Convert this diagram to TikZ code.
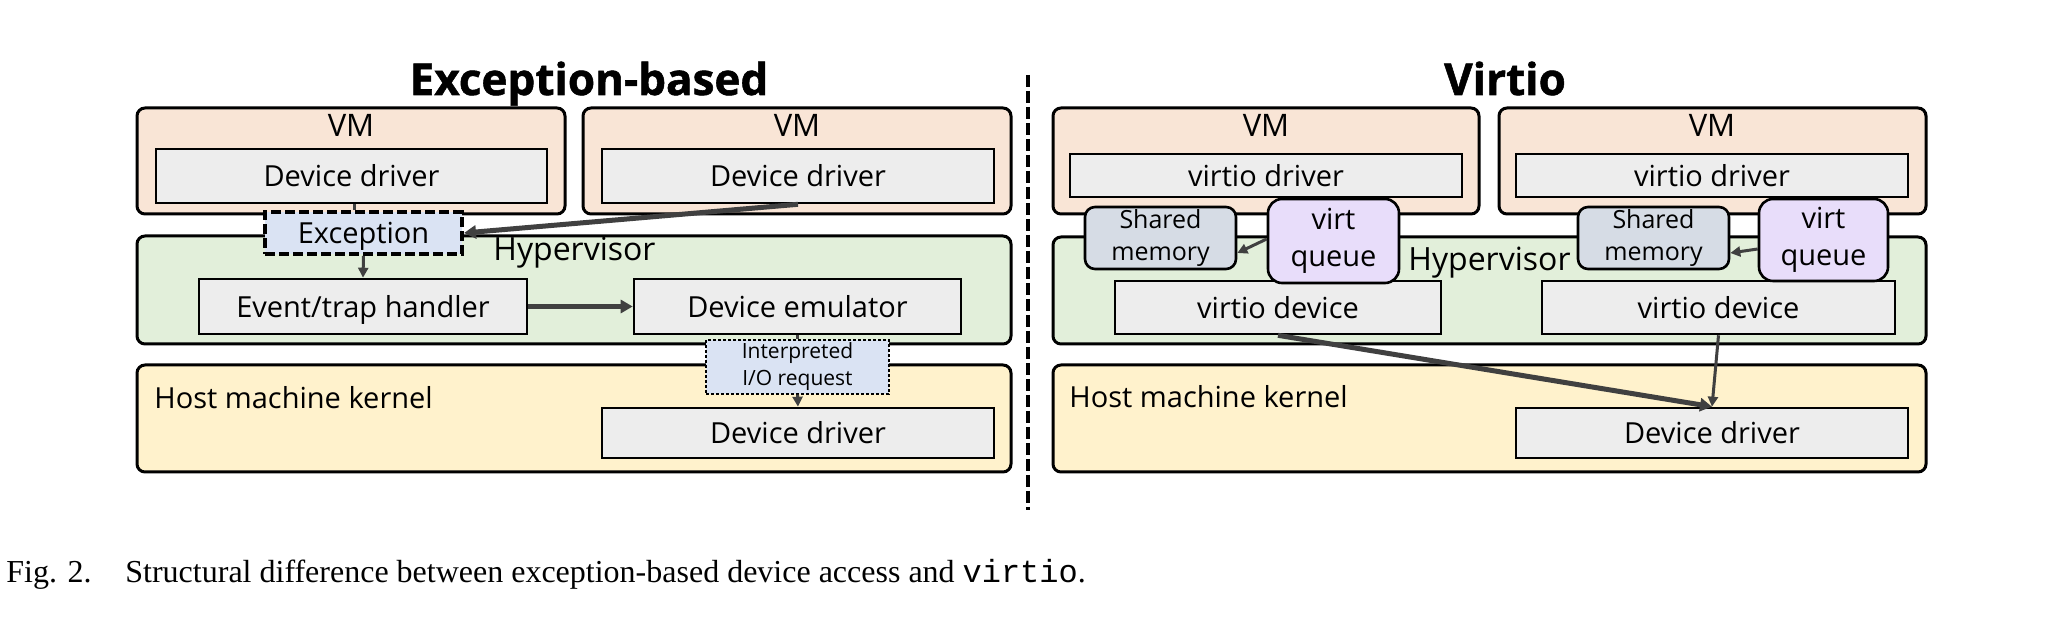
\documentclass[tikz,border=0pt]{standalone}
\usepackage{fontspec}
\setmainfont{Open Sans}
\newfontfamily\headfam{Open Sans}[BoldFeatures={FakeBold=1.2}]
\newfontfamily\capserif{Liberation Serif}
\newfontfamily\capmono{Liberation Mono}
\usetikzlibrary{arrows.meta}
\definecolor{vmpeach}{HTML}{F9E5D6}
\definecolor{hvgreen}{HTML}{E2EFDA}
\definecolor{hostcream}{HTML}{FFF2CC}
\definecolor{boxgray}{HTML}{EDEDED}
\definecolor{excblue}{HTML}{DAE3F3}
\definecolor{memgray}{HTML}{D6DCE5}
\definecolor{queuelilac}{HTML}{E8DDFA}
\definecolor{arrowgray}{HTML}{404040}

\newcommand\diagfont{\fontsize{14.5}{17}\selectfont}
\newcommand\layerfont{\fontsize{15.5}{18}\selectfont}
\newcommand\hvfont{\fontsize{16}{19}\selectfont}
\newcommand\memfont{\fontsize{12.5}{16}\selectfont}
\newcommand\queuefont{\fontsize{14.5}{18.5}\selectfont}
\newcommand\reqfont{\fontsize{10.5}{13.5}\selectfont}
\newcommand\headfont{\headfam\fontsize{22}{26}\selectfont\bfseries}
\newcommand\capfont{\capserif\fontsize{16}{19}\selectfont}

\tikzset{
  layer/.style={draw=black, line width=1.5pt, rounded corners=4pt, inner sep=0pt},
  vmlayer/.style={layer, fill=vmpeach},
  hvlayer/.style={layer, fill=hvgreen},
  hostlayer/.style={layer, fill=hostcream},
  part/.style={draw=black, line width=1.3pt, fill=boxgray, inner sep=0pt, font=\diagfont,
    text height=10.6pt, text depth=0pt},
  memblock/.style={draw=black, line width=1.3pt, fill=memgray, rounded corners=5pt,
    inner sep=0pt, align=center, font=\memfont},
  queueblock/.style={draw=black, line width=1.3pt, fill=queuelilac, rounded corners=7pt,
    inner sep=0pt, align=center, font=\queuefont},
  link/.style={draw=arrowgray, line width=1.5pt},
  flow/.style={link, -{Triangle[length=5pt,width=5pt]}},
  bigflow/.style={draw=arrowgray, line width=2.5pt, -{Triangle[length=6pt,width=6.5pt]}}
}

\begin{document}
\begin{tikzpicture}[x=0.5pt, y=-0.5pt]
  \useasboundingbox (0,0) rectangle (2056,624);

  % exception-based side
  \node[font=\headfont, anchor=base] (headexc) at (589,95) {Exception-based};
  \node[vmlayer, minimum width=214pt, minimum height=53pt] (vmA) at (351,161) {};
  \node[vmlayer, minimum width=214pt, minimum height=53pt] (vmB) at (797,161) {};
  \node[font=\layerfont, anchor=base] (vmAlab) at (351,137) {VM};
  \node[font=\layerfont, anchor=base] (vmBlab) at (797,137) {VM};
  \node[hvlayer, minimum width=437pt, minimum height=54pt] (hvA) at (574,290) {};
  \node[font=\hvfont, anchor=base west, inner sep=0pt] (hvAlab) at (493,261) {Hypervisor};
  \node[hostlayer, minimum width=437pt, minimum height=53.5pt] (hostA) at (574,418.5) {};
  \node[font=\diagfont, anchor=base west, inner sep=0pt] (hostAlab) at (154,409) {Host machine kernel};

  \node[part, minimum width=195.5pt, minimum height=27pt] (ddA) at (351.5,176) {Device driver};
  \node[part, minimum width=196pt, minimum height=27pt] (ddB) at (798,176) {Device driver};
  \node[part, minimum width=164pt, minimum height=27.5pt] (trap) at (363,306.5) {Event/trap handler};
  \node[part, minimum width=163.5pt, minimum height=27.5pt] (emu) at (797.5,306.5) {Device emulator};
  \node[part, minimum width=196pt, minimum height=25pt] (hostddA) at (798,433) {Device driver};

  \node[draw=black, line width=2pt, dash pattern=on 5pt off 2pt, fill=excblue,
    inner sep=0pt, minimum width=98.5pt, minimum height=21pt, font=\diagfont,
    text height=10.6pt, text depth=0pt] (exc) at (363.5,233) {Exception};
  \node[draw=black, line width=0.75pt, dash pattern=on 1.5pt off 1pt, fill=excblue,
    inner sep=0pt, minimum width=91.5pt, minimum height=27pt, align=center, font=\reqfont] (req) at (797.5,367) {Interpreted\\I/O request};

  \draw[link] (ddA.south -| 354,0) -- (exc.north -| 354,0);
  \draw[flow] (exc.south) -- (trap.north);
  \draw[bigflow] (ddB.south) -- (exc.east);
  \draw[bigflow] (trap.east) -- (emu.west);
  \draw[link] (emu.south) -- (req.north);
  \draw[flow] (req.south) -- (hostddA.north);

  % divider
  \coordinate (divtop) at (1028,75);
  \coordinate (divbot) at (1028,510);
  \draw[line width=2pt, dash pattern=on 6pt off 2pt] (divtop) -- (divbot);

  % virtio side
  \node[font=\headfont, anchor=base] (headvirt) at (1505,95) {Virtio};
  \node[vmlayer, minimum width=213pt, minimum height=53pt] (vmC) at (1266,161) {};
  \node[vmlayer, minimum width=213.5pt, minimum height=53pt] (vmD) at (1712.5,161) {};
  \node[font=\layerfont, anchor=base] (vmClab) at (1266,137) {VM};
  \node[font=\layerfont, anchor=base] (vmDlab) at (1712,137) {VM};
  \node[hvlayer, minimum width=436.5pt, minimum height=53.5pt] (hvB) at (1489.5,290.5) {};
  \node[font=\hvfont, anchor=base west, inner sep=0pt] (hvBlab) at (1408,271) {Hypervisor};
  \node[hostlayer, minimum width=436.5pt, minimum height=53.5pt] (hostB) at (1489.5,418.5) {};
  \node[font=\diagfont, anchor=base west, inner sep=0pt] (hostBlab) at (1069,408) {Host machine kernel};

  \node[part, minimum width=196pt, minimum height=21.5pt] (vdrvA) at (1266,175.5) {virtio driver};
  \node[part, minimum width=196pt, minimum height=21.5pt] (vdrvB) at (1712,175.5) {virtio driver};
  \node[part, minimum width=163pt, minimum height=26.5pt] (vdevA) at (1278,307.5) {virtio device};
  \node[part, minimum width=176.5pt, minimum height=26.5pt] (vdevB) at (1718.5,307.5) {virtio device};
  \node[part, minimum width=196pt, minimum height=25pt] (hostddB) at (1712,433) {Device driver};

  \node[memblock, minimum width=75.5pt, minimum height=31pt] (memA) at (1160.5,238) {Shared\\memory};
  \node[queueblock, minimum width=65.5pt, minimum height=42pt] (vqA) at (1333.5,241) {virt\\queue};
  \node[memblock, minimum width=75.5pt, minimum height=31pt] (memB) at (1653.5,238) {Shared\\memory};
  \node[queueblock, minimum width=64.5pt, minimum height=41pt] (vqB) at (1823.5,240) {virt\\queue};

  \draw[flow] ([yshift=1pt]vqA.west) -- ([yshift=-7.5pt]memA.east);
  \draw[flow] ([yshift=-4.5pt]vqB.west) -- ([yshift=-7.5pt]memB.east);
  \draw[bigflow] (vdevA.south) -- (hostddB.north);
  \draw[flow] (vdevB.south) -- (hostddB.north);

  % caption
  \node[font=\capfont, anchor=base west, inner sep=0pt] (capnum) at (6,582) {Fig. 2.};
  \node[font=\capfont, anchor=base west, inner sep=0pt] (captext) at (125,582)
    {Structural difference between exception-based device access and {\capmono virtio}.};
\end{tikzpicture}
\end{document}
